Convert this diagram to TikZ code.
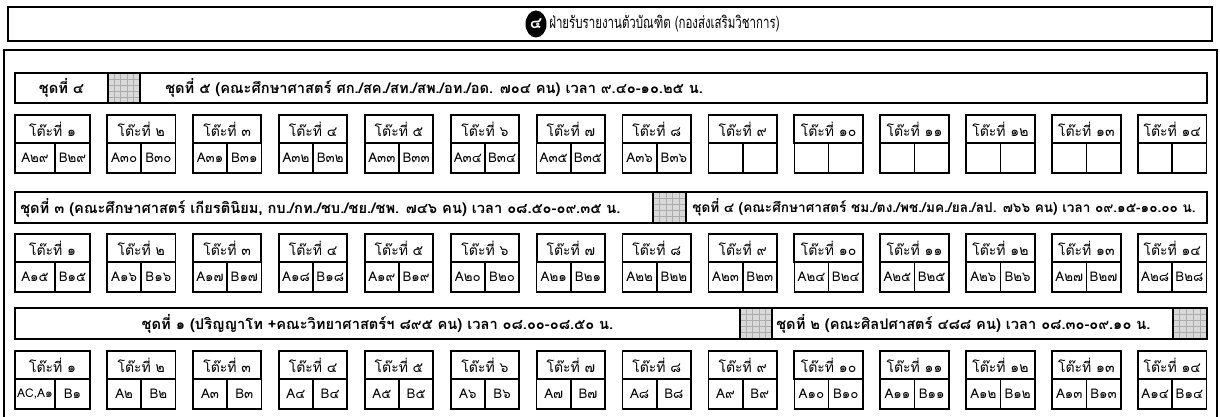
\documentclass[tikz,border=0pt]{standalone}
\usepackage{fontspec}
\setmainfont[Script=Thai]{Loma}
\usetikzlibrary{calc,shapes.geometric}
\begin{document}
\begin{tikzpicture}[x=0.75pt,y=-0.75pt,
  box/.style={draw, line width=1.4pt, inner sep=0pt, outer sep=0pt, anchor=north west},
  hdrtext/.style={font=\bfseries\fontsize{11}{12}\selectfont, inner sep=0pt},
  thead/.style={draw, line width=1.4pt, inner sep=0pt, outer sep=0pt, anchor=north west,
     minimum height={28*0.75pt}, font=\fontsize{10.5}{11}\selectfont},
  abcell/.style={draw, line width=1.3pt, inner sep=0pt, outer sep=0pt,
     minimum height={30*0.75pt}, font=\fontsize{10}{11}\selectfont},
  hatch/.style={box, fill=gray!30, path picture={
     \foreach \k in {0.2,0.4,0.6,0.8}{
       \draw[gray!65, line width=0.5pt]
         ($(path picture bounding box.north west)!\k!(path picture bounding box.north east)$) --
         ($(path picture bounding box.south west)!\k!(path picture bounding box.south east)$);
       \draw[gray!65, line width=0.5pt]
         ($(path picture bounding box.north west)!\k!(path picture bounding box.south west)$) --
         ($(path picture bounding box.north east)!\k!(path picture bounding box.south east)$);
     }}}
]
\useasboundingbox (0,0) rectangle (1220,417);

% title
\node[box, line width=1.2pt, minimum width={1204*0.75pt}, minimum height={34*0.75pt}] (title) at (8,7) {};
\draw[line width=1.6pt] (title.south west) -- (title.south east);
\node[fill=black, ellipse, inner sep=0pt, minimum width={21*0.75pt}, minimum height={27*0.75pt},
      text=white, font=\bfseries\fontsize{12}{13}\selectfont] (num) at (536,24) {๔};
\node[anchor=west, inner sep=0pt, font=\fontsize{12.5}{13}\selectfont] (ttext) at (549,24)
  {\scalebox{0.69}[1]{ฝ่ายรับรายงานตัวบัณฑิต (กองส่งเสริมวิชาการ)}};

% outer frame
\draw[line width=1.2pt] (4,417) -- (4,50) -- (1217,50) -- (1217,417);

% row 1 header
\node[box, minimum width={93*0.75pt}, minimum height={30*0.75pt}] (h1a) at (15,73) {};
\node[hdrtext] (t1a) at (h1a.center) {ชุดที่ ๔};
\node[hatch, minimum width={32*0.75pt}, minimum height={30*0.75pt}] (g1) at (108,73) {};
\node[box, minimum width={1067*0.75pt}, minimum height={30*0.75pt}] (h1b) at (140,73) {};
\node[hdrtext, anchor=west] (t1b) at ($(h1b.west)+(25,0)$)
  {ชุดที่ ๕ (คณะศึกษาศาสตร์ ศก./สค./สท./สพ./อท./อด. ๗๐๔ คน) เวลา ๙.๔๐-๑๐.๒๕ น.};

% row 2 header
\node[box, minimum width={638*0.75pt}, minimum height={31*0.75pt}] (h2a) at (15,192) {};
\node[hdrtext, anchor=west] (t2a) at ($(h2a.west)+(5,0)$)
  {ชุดที่ ๓ (คณะศึกษาศาสตร์ เกียรตินิยม, กบ./กท./ชบ./ชย./ชพ. ๗๔๖ คน) เวลา ๐๘.๕๐-๐๙.๓๕ น.};
\node[hatch, minimum width={33*0.75pt}, minimum height={31*0.75pt}] (g2) at (653,192) {};
\node[box, minimum width={521*0.75pt}, minimum height={31*0.75pt}] (h2b) at (686,192) {};
\node[hdrtext, font=\bfseries\fontsize{10.2}{12}\selectfont, anchor=west] (t2b) at ($(h2b.west)+(6,0)$)
  {ชุดที่ ๔ (คณะศึกษาศาสตร์ ชม./ตง./พช./มค./ยล./ลป. ๗๖๖ คน) เวลา ๐๙.๑๕-๑๐.๐๐ น.};

% row 3 header
\node[box, minimum width={725*0.75pt}, minimum height={31*0.75pt}] (h3a) at (15,308) {};
\node[hdrtext] (t3a) at (h3a.center)
  {ชุดที่ ๑ (ปริญญาโท +คณะวิทยาศาสตร์ฯ ๘๙๕ คน) เวลา ๐๘.๐๐-๐๘.๕๐ น.};
\node[hatch, minimum width={32*0.75pt}, minimum height={31*0.75pt}] (g3a) at (740,308) {};
\node[box, minimum width={401*0.75pt}, minimum height={31*0.75pt}] (h3b) at (772,308) {};
\node[hdrtext, anchor=west] (t3b) at ($(h3b.west)+(4,0)$)
  {ชุดที่ ๒ (คณะศิลปศาสตร์ ๔๘๘ คน) เวลา ๐๘.๓๐-๐๙.๑๐ น.};
\node[hatch, minimum width={34*0.75pt}, minimum height={31*0.75pt}] (g3b) at (1173,308) {};

% tables
\newcommand{\mytable}[7]{%
  \pgfmathsetmacro{\lx}{ifthenelse(#2==1,15,107+85.92*(#2-2))}%
  \pgfmathsetmacro{\tw}{ifthenelse(#2==1,75,68.5)}%
  \pgfmathsetmacro{\aw}{ifthenelse(#2==1,40,34.25)}%
  \node[thead, minimum width={\tw*0.75pt}] (#1h#2) at (\lx,#3) {โต๊ะที่ #4};
  \node[abcell, anchor=north west, minimum width={\aw*0.75pt}] (#1a#2) at (#1h#2.south west) {#5};
  \node[abcell, anchor=north east, minimum width={(\tw-\aw)*0.75pt}] (#1b#2) at (#1h#2.south east) {#6};
}

\foreach \i/\n/\a/\b in {1/๑/A๒๙/B๒๙,2/๒/A๓๐/B๓๐,3/๓/A๓๑/B๓๑,4/๔/A๓๒/B๓๒,5/๕/A๓๓/B๓๓,
  6/๖/A๓๔/B๓๔,7/๗/A๓๕/B๓๕,8/๘/A๓๖/B๓๖,9/๙/{}/{},10/๑๐/{}/{},11/๑๑/{}/{},12/๑๒/{}/{},
  13/๑๓/{}/{},14/๑๔/{}/{}}{\mytable{r1}{\i}{115}{\n}{\a}{\b}{}}

\foreach \i/\n/\a/\b in {1/๑/A๑๕/B๑๕,2/๒/A๑๖/B๑๖,3/๓/A๑๗/B๑๗,4/๔/A๑๘/B๑๘,5/๕/A๑๙/B๑๙,
  6/๖/A๒๐/B๒๐,7/๗/A๒๑/B๒๑,8/๘/A๒๒/B๒๒,9/๙/A๒๓/B๒๓,10/๑๐/A๒๔/B๒๔,11/๑๑/A๒๕/B๒๕,
  12/๑๒/A๒๖/B๒๖,13/๑๓/A๒๗/B๒๗,14/๑๔/A๒๘/B๒๘}{\mytable{r2}{\i}{234}{\n}{\a}{\b}{}}

\foreach \i/\n/\a/\b in {1/๑/{\fontsize{9}{10}\selectfont AC,A๑}/B๑,2/๒/A๒/B๒,3/๓/A๓/B๓,4/๔/A๔/B๔,5/๕/A๕/B๕,
  6/๖/A๖/B๖,7/๗/A๗/B๗,8/๘/A๘/B๘,9/๙/A๙/B๙,10/๑๐/A๑๐/B๑๐,11/๑๑/A๑๑/B๑๑,
  12/๑๒/A๑๒/B๑๒,13/๑๓/A๑๓/B๑๓,14/๑๔/A๑๔/B๑๔}{\mytable{r3}{\i}{351}{\n}{\a}{\b}{}}
\end{tikzpicture}
\end{document}
